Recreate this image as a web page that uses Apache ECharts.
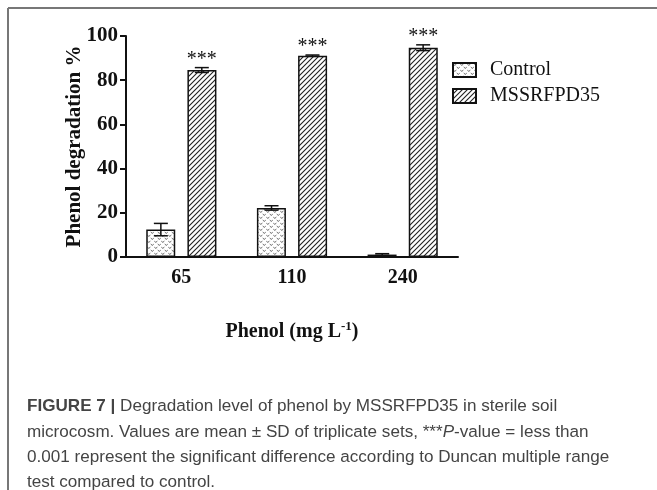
<!DOCTYPE html>
<html><head><meta charset="utf-8">
<script src="https://cdn.jsdelivr.net/npm/echarts@6/dist/echarts.min.js"></script>
<style>html,body{margin:0;padding:0;background:#fff}#c{width:657px;height:490px}</style>
</head><body><div id="c"></div>
<script>
const categories = ['65', '110', '240'];
const controlMean = [12.4, 22.2, 1.1];
const controlSD = [2.8, 1.0, 0.4];
const mssrMean = [84.6, 91.1, 94.7];
const mssrSD = [1.1, 0.3, 1.3];
const yTicks = [0, 20, 40, 60, 80, 100];
const captionLines = [
  ['FIGURE 7 |', ' Degradation level of phenol by MSSRFPD35 in sterile soil'],
  ['', 'microcosm. Values are mean \u00b1 SD of triplicate sets, ***{i|P}-value = less than'],
  ['', '0.001 represent the significant difference according to Duncan multiple range'],
  ['', 'test compared to control.']
];

function hatchPattern() {
  const c = document.createElement('canvas');
  c.width = 5; c.height = 5;
  const g = c.getContext('2d');
  g.fillStyle = '#fff'; g.fillRect(0, 0, 5, 5);
  g.strokeStyle = '#222'; g.lineWidth = 1.1;
  g.beginPath();
  g.moveTo(-1, 6); g.lineTo(6, -1);
  g.moveTo(-1, 1); g.lineTo(1, -1);
  g.moveTo(4, 6); g.lineTo(6, 4);
  g.stroke();
  return c;
}
function dotPattern() {
  const c = document.createElement('canvas');
  c.width = 7; c.height = 6;
  const g = c.getContext('2d');
  g.fillStyle = '#fff'; g.fillRect(0, 0, 7, 6);
  g.strokeStyle = '#666'; g.lineWidth = 0.9;
  g.beginPath();
  g.moveTo(0.3, 0.8); g.lineTo(1.8, 2.6); g.lineTo(3.3, 0.8);
  g.moveTo(3.8, 3.8); g.lineTo(5.3, 5.6); g.lineTo(6.8, 3.8);
  g.stroke();
  return c;
}

const serif = 'Liberation Serif, Times New Roman, serif';
const chart = echarts.init(document.getElementById('c'));

function errRender(seriesIdx, sds) {
  return function (params, api) {
    const ci = api.value(0);
    const mean = api.value(1);
    const sd = sds[params.dataIndex];
    const bw = api.size([1, 0])[0];
    const off = (seriesIdx === 0 ? -1 : 1) * bw * 0.185;
    const top = api.coord([ci, mean + sd]);
    const bot = api.coord([ci, mean - sd]);
    const x = top[0] + off;
    const cap = 7;
    const children = [
      { type: 'line', shape: { x1: x, y1: top[1], x2: x, y2: bot[1] }, style: { stroke: '#111', lineWidth: 1.5 } },
      { type: 'line', shape: { x1: x - cap, y1: top[1], x2: x + cap, y2: top[1] }, style: { stroke: '#111', lineWidth: 1.5 } },
      { type: 'line', shape: { x1: x - cap, y1: bot[1], x2: x + cap, y2: bot[1] }, style: { stroke: '#111', lineWidth: 1.5 } }
    ];
    if (seriesIdx === 1) {
      children.push({ type: 'text', style: { text: '***', x: x, y: top[1] + 2, align: 'center', verticalAlign: 'bottom', font: '20px ' + serif, fill: '#111' } });
    }
    return { type: 'group', children: children };
  };
}

const capFont = 17.1;
const captionGraphics = captionLines.map((ln, i) => ({
  type: 'text', left: 27, top: 398 + i * 25.3,
  style: {
    text: (ln[0] ? '{b|' + ln[0] + '}' : '') + ln[1],
    font: capFont + 'px Liberation Sans, Arial, sans-serif',
    fill: '#444',
    rich: {
      b: { fontWeight: 'bold', fontSize: capFont, fontFamily: 'Liberation Sans', fill: '#444' },
      i: { fontStyle: 'italic', fontSize: capFont, fontFamily: 'Liberation Sans', fill: '#444' }
    }
  }
}));

chart.setOption({
  animation: false,
  backgroundColor: '#fff',
  grid: { left: 126, right: 199, top: 36, bottom: 233 },
  legend: {
    left: 452, top: 60, orient: 'vertical', itemGap: 6, itemWidth: 23, itemHeight: 14, padding: 0,
    icon: 'rect',
    data: ['Control', 'MSSRFPD35'],
    textStyle: { fontFamily: serif, fontSize: 20, color: '#111', padding: [0, 0, 0, 9] }
  },
  xAxis: {
    type: 'category', data: categories,
    axisLine: { lineStyle: { color: '#111', width: 2 } },
    axisTick: { alignWithLabel: true, length: 7, lineStyle: { color: '#111', width: 2 } },
    axisLabel: { fontFamily: serif, fontWeight: 'bold', fontSize: 20, color: '#111', margin: 11 },
    name: '{n|Phenol (mg L}{s|-1}{n|)}',
    nameLocation: 'middle', nameGap: 63,
    nameTextStyle: {
      rich: {
        n: { fontFamily: serif, fontWeight: 'bold', fontSize: 20, color: '#111' },
        s: { fontFamily: serif, fontWeight: 'bold', fontSize: 13, color: '#111', verticalAlign: 'top', padding: [0, 0, 10, 0] }
      }
    }
  },
  yAxis: {
    type: 'value', min: yTicks[0], max: yTicks[yTicks.length - 1], interval: 20,
    splitLine: { show: false },
    axisLine: { show: true, lineStyle: { color: '#111', width: 2 } },
    axisTick: { show: true, length: 6, lineStyle: { color: '#111', width: 2 } },
    axisLabel: { fontFamily: serif, fontWeight: 'bold', fontSize: 21, color: '#111', margin: 8 },
    name: 'Phenol degradation %', nameLocation: 'middle', nameGap: 41, nameMoveOverlap: false,
    nameTextStyle: { fontFamily: serif, fontWeight: 'bold', fontSize: 21, color: '#111' }
  },
  series: [
    {
      name: 'Control', type: 'bar', data: controlMean, barWidth: 29, barGap: '42%',
      itemStyle: { color: { image: dotPattern(), repeat: 'repeat' }, borderColor: '#111', borderWidth: 1.5 }
    },
    {
      name: 'MSSRFPD35', type: 'bar', data: mssrMean, barWidth: 29,
      itemStyle: { color: { image: hatchPattern(), repeat: 'repeat' }, borderColor: '#111', borderWidth: 1.5 }
    },
    {
      type: 'custom', renderItem: errRender(0, controlSD),
      data: controlMean.map((v, i) => [i, v]), z: 5
    },
    {
      type: 'custom', renderItem: errRender(1, mssrSD),
      data: mssrMean.map((v, i) => [i, v]), z: 5
    }
  ],
  graphic: [
    { type: 'line', shape: { x1: 8, y1: 8, x2: 657, y2: 8 }, style: { stroke: '#777', lineWidth: 2 } },
    { type: 'line', shape: { x1: 8, y1: 8, x2: 8, y2: 490 }, style: { stroke: '#777', lineWidth: 2 } }
  ].concat(captionGraphics)
});
</script></body></html>
